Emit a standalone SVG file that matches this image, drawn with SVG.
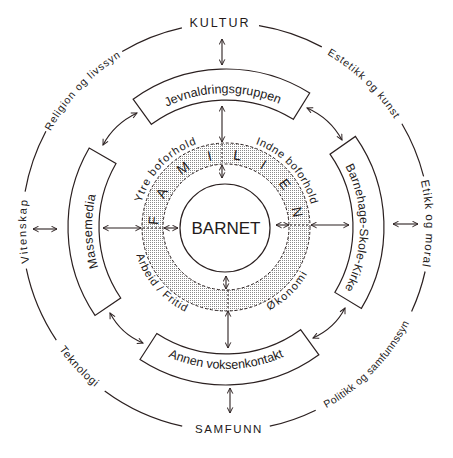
<svg xmlns="http://www.w3.org/2000/svg" width="453" height="458" viewBox="0 0 453 458">
<style>
.ln{fill:none;stroke:#2b2020;stroke-width:1.2}
.box{fill:#fff;stroke:#2b2020;stroke-width:1.2}
.ar{fill:none;stroke:#2b2020;stroke-width:1.1;marker-start:url(#ah);marker-end:url(#ah)}
.dl{fill:none;stroke:#2b2020;stroke-width:1;stroke-dasharray:2 2}
.dc{fill:none;stroke:#2b2020;stroke-width:1;stroke-dasharray:3 2}
.t{font-family:"Liberation Sans",Arial,sans-serif;fill:#231a1a}
</style>
<defs>
<marker id="ah" viewBox="0 0 10 10" refX="9" refY="5" markerWidth="7" markerHeight="7" markerUnits="userSpaceOnUse" orient="auto-start-reverse">
<path d="M1,1 L9,5 L1,9" fill="none" stroke="#2b2020" stroke-width="1.4"/>
</marker>
<pattern id="dots" width="2" height="2" patternUnits="userSpaceOnUse"><rect width="1" height="1" fill="#8a8a8a"/></pattern>
<path id="pOutTop" d="M 226 427 A 200 200 0 0 1 226 27 A 200 200 0 0 1 226 427"/>
<path id="pOutBot" d="M 226 20 A 207 207 0 0 0 226 434 A 207 207 0 0 0 226 20"/>
<path id="pMidTop" d="M 226 361 A 134 134 0 0 1 226 93 A 134 134 0 0 1 226 361"/>
<path id="pMidBot" d="M 226 85 A 142 142 0 0 0 226 369 A 142 142 0 0 0 226 85"/>
<path id="pInTop" d="M 226 315 A 88 88 0 0 1 226 139 A 88 88 0 0 1 226 315"/>
<path id="pInBot" d="M 226 133 A 94 94 0 0 0 226 321 A 94 94 0 0 0 226 133"/>
</defs>
<rect width="453" height="458" fill="#fff"/>

<g id="outer-ring" class="ln">
<path d="M 259.0 25.7 A 204 204 0 0 1 321.8 46.9"/>
<path d="M 401.9 123.8 A 204 204 0 0 1 423.6 176.3"/>
<path d="M 425.1 271.5 A 204 204 0 0 1 411.6 311.6"/>
<path d="M 315.7 410.2 A 204 204 0 0 1 269.8 426.2"/>
<path d="M 182.2 426.2 A 204 204 0 0 1 104.7 391.0"/>
<path d="M 56.3 340.2 A 204 204 0 0 1 26.3 268.7"/>
<path d="M 25.1 191.6 A 204 204 0 0 1 45.9 131.2"/>
<path d="M 122.2 51.4 A 204 204 0 0 1 181.9 27.8"/>
</g>

<g id="kultur"><text class="t" x="220" y="27" font-size="12.5" letter-spacing="2" text-anchor="middle">KULTUR</text></g>
<g id="samfunn"><text class="t" x="229" y="433" font-size="11.5" letter-spacing="1.6" text-anchor="middle">SAMFUNN</text></g>
<g id="vitenskap"><text class="t" font-size="11" letter-spacing="1.8" text-anchor="middle"><textPath href="#pOutTop" startOffset="24.7%">Vitenskap</textPath></text></g>
<g id="religion"><text class="t" font-size="10.5" letter-spacing="0.9" text-anchor="middle"><textPath href="#pOutTop" startOffset="37.1%">Religion og livssyn</textPath></text></g>
<g id="estetikk"><text class="t" font-size="10.5" letter-spacing="0.9" text-anchor="middle"><textPath href="#pOutTop" startOffset="62.2%">Estetikk og kunst</textPath></text></g>
<g id="etikk"><text class="t" font-size="11.5" letter-spacing="1" text-anchor="middle"><textPath href="#pOutTop" startOffset="74.75%">Etikk og moral</textPath></text></g>
<g id="teknologi"><text class="t" font-size="11" letter-spacing="0.7" text-anchor="middle"><textPath href="#pOutBot" startOffset="37.1%">Teknologi</textPath></text></g>
<g id="politikk"><text class="t" font-size="10.5" letter-spacing="0.35" text-anchor="middle"><textPath href="#pOutBot" startOffset="62.7%">Politikk og samfunnssyn</textPath></text></g>

<g id="jevnaldringsgruppen">
<path class="box" d="M 133.1 99.2 A 158 158 0 0 1 309.7 93.0 L 293.3 119.3 A 127 127 0 0 0 151.4 124.3 Z"/>
<text class="t" font-size="12.5" text-anchor="middle"><textPath href="#pMidTop" startOffset="49.6%">Jevnaldringsgruppen</textPath></text>
</g>
<g id="barnehage">
<path class="box" d="M 355.4 136.4 A 158 158 0 0 1 361.4 308.4 L 334.9 292.4 A 127 127 0 0 0 330.0 154.2 Z"/>
<text class="t" font-size="12" letter-spacing="0.2" text-anchor="middle"><textPath href="#pMidTop" startOffset="75.1%">Barnehage-Skole-Kirke</textPath></text>
</g>
<g id="annen">
<path class="box" d="M 318.9 354.8 A 158 158 0 0 1 140.0 359.5 L 156.8 333.5 A 127 127 0 0 0 300.6 329.7 Z"/>
<text class="t" font-size="12.5" text-anchor="middle"><textPath href="#pMidBot" startOffset="50%">Annen voksenkontakt</textPath></text>
</g>
<g id="massemedia">
<path class="box" d="M 95.0 315.4 A 158 158 0 0 1 89.2 148 L 116.0 163.5 A 127 127 0 0 0 120.7 298.0 Z"/>
<text class="t" font-size="12.5" letter-spacing="0.3" text-anchor="middle"><textPath href="#pMidTop" startOffset="24.5%">Massemedia</textPath></text>
</g>

<g id="familien">
<path d="M 142 227 a 84 84 0 1 0 168 0 a 84 84 0 1 0 -168 0 Z M 163 227 a 63 63 0 1 0 126 0 a 63 63 0 1 0 -126 0 Z" fill="url(#dots)" fill-rule="evenodd"/>
<circle class="dc" cx="226" cy="227" r="84"/>
<circle class="dc" cx="226" cy="227" r="63"/>
<g class="t" font-size="14" text-anchor="middle">
<text x="226" y="159" transform="rotate(-85 226 227)">F</text>
<text x="226" y="159" transform="rotate(-62 226 227)">A</text>
<text x="226" y="159" transform="rotate(-36 226 227)">M</text>
<text x="226" y="159" transform="rotate(-13 226 227)">I</text>
<text x="226" y="159" transform="rotate(9 226 227)">L</text>
<text x="226" y="159" transform="rotate(31 226 227)">I</text>
<text x="226" y="159" transform="rotate(54 226 227)">E</text>
<text x="226" y="159" transform="rotate(78 226 227)">N</text>
</g>
<text class="t" font-size="11" letter-spacing="1.1" text-anchor="middle"><textPath href="#pInTop" startOffset="37.1%">Ytre boforhold</textPath></text>
<text class="t" font-size="11" letter-spacing="0.6" text-anchor="middle"><textPath href="#pInTop" startOffset="63.2%">Indne boforhold</textPath></text>
<text class="t" font-size="11" letter-spacing="0.8" text-anchor="middle"><textPath href="#pInBot" startOffset="36.4%">Arbeid / Fritid</textPath></text>
<text class="t" font-size="11" letter-spacing="1.5" text-anchor="middle"><textPath href="#pInBot" startOffset="62.25%">Økonomi</textPath></text>
</g>

<g id="barnet">
<ellipse class="ln" cx="225" cy="228" rx="45" ry="44"/>
<text class="t" x="226" y="234" font-size="17" text-anchor="middle">BARNET</text>
</g>

<g id="connectors">
<path class="ar" d="M 222 39 L 222 65"/>
<path class="ar" d="M 230 388 L 230 413"/>
<path class="ar" d="M 33 229 L 57 229"/>
<path class="ar" d="M 393 224 L 418 224"/>
<path class="ar" d="M 137 113 Q 114 124 103 145"/>
<path class="ar" d="M 110 313 Q 121 334 143 343"/>
<path class="ar" d="M 307 108 Q 330 118 342 140"/>
<path class="ar" d="M 345 308 Q 335 328 313 338"/>
<path class="ar" d="M 222 106 L 222 142"/>
<path class="ar" d="M 228 311 L 228 348"/>
<path class="ar" d="M 103 228 L 141 228"/>
<path class="ar" d="M 311 225 L 349 225"/>
<path class="dl" d="M 222 144 L 222 164"/>
<path class="dl" d="M 228 290 L 228 310"/>
<path class="dl" d="M 143 228 L 163 228"/>
<path class="dl" d="M 290 225 L 310 225"/>
<path class="ar" d="M 222 165 L 222 178"/>
<path class="ar" d="M 226 276 L 226 289"/>
<path class="ar" d="M 164 228 L 178 228"/>
<path class="ar" d="M 276 225 L 289 225"/>
</g>
</svg>
